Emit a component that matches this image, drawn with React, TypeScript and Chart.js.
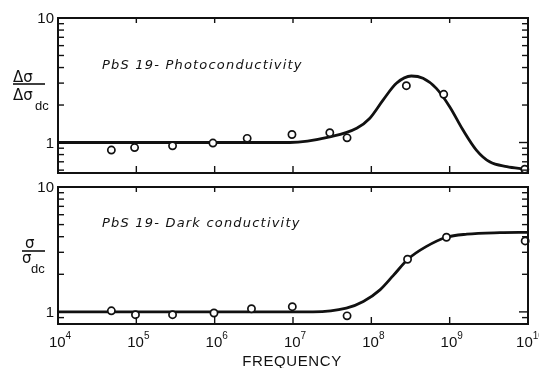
import React, { useEffect, useRef } from "react";
import { Chart, registerables } from "chart.js";
Chart.register(...registerables);

// ---------- data ----------
const photoPointFreq = [4.8e4, 9.5e4, 2.9e5, 9.5e5, 2.6e6, 9.7e6, 2.95e7, 4.9e7, 2.8e8, 8.4e8, 9.1e9];
const photoPointValue = [0.87, 0.91, 0.94, 0.99, 1.08, 1.16, 1.2, 1.09, 2.86, 2.44, 0.61];
const photoCurveFreq = [1e4, 1e5, 1e6, 9.1e6, 2.95e7, 6.5e7, 9.5e7, 1.41e8, 2.09e8, 3.24e8, 4.57e8, 6.76e8, 1e9, 1.48e9, 2.19e9, 3.24e9, 5.37e9, 9.1e9];
const photoCurveValue = [1.0, 1.0, 1.0, 1.0, 1.11, 1.3, 1.56, 2.19, 2.99, 3.42, 3.28, 2.72, 1.94, 1.26, 0.87, 0.7, 0.64, 0.61];

const darkPointFreq = [4.8e4, 9.75e4, 2.9e5, 9.8e5, 2.95e6, 9.8e6, 4.9e7, 2.9e8, 9.1e8, 9.2e9];
const darkPointValue = [1.02, 0.95, 0.95, 0.98, 1.06, 1.1, 0.93, 2.64, 3.96, 3.7];
const darkCurveFreq = [1e4, 1e5, 1e6, 1e7, 1.8e7, 4.8e7, 7.9e7, 1.29e8, 1.9e8, 2.95e8, 5e8, 9.1e8, 1.66e9, 4.4e9, 1e10];
const darkCurveValue = [1.0, 1.0, 1.0, 1.0, 1.0, 1.07, 1.21, 1.5, 1.95, 2.65, 3.33, 3.96, 4.19, 4.31, 4.34];

const xTickValues = [1e4, 1e5, 1e6, 1e7, 1e8, 1e9, 1e10];
const xTickExponents = ["4", "5", "6", "7", "8", "9", "10"];
const yMajorValues = [1, 10];
const yMajorLabels = ["1", "10"];
const yMinorValues = [0.6, 0.7, 0.8, 0.9, 2, 3, 4, 5, 6, 7, 8, 9];

const xAxisTitle = "FREQUENCY";
const photoTitle = "PbS 19- Photoconductivity";
const darkTitle = "PbS 19- Dark conductivity";

// ---------- drawing helpers ----------
const INK = "#111";
const NUM_FONT = "15px 'Liberation Sans', 'DejaVu Sans', sans-serif";
const SUP_FONT = "10px 'Liberation Sans', 'DejaVu Sans', sans-serif";
const TITLE_FONT = "italic 13px 'DejaVu Sans', sans-serif";
const SYM_FONT = "15px 'DejaVu Sans', sans-serif";
const SUB_FONT = "13px 'Liberation Sans', 'DejaVu Sans', sans-serif";

function line(ctx: CanvasRenderingContext2D, x1: number, y1: number, x2: number, y2: number) {
  ctx.beginPath();
  ctx.moveTo(x1, y1);
  ctx.lineTo(x2, y2);
  ctx.stroke();
}

type PanelProps = {
  top: number;
  height: number;
  padTop: number;
  padBottom: number;
  yMin: number;
  curveFreq: number[];
  curveValue: number[];
  pointFreq: number[];
  pointValue: number[];
  title: string;
  titleX: number;
  titleBaseline: number;
  kind: "photo" | "dark";
  showXLabels: boolean;
};

function Panel(p: PanelProps) {
  const ref = useRef<HTMLCanvasElement | null>(null);
  useEffect(() => {
    const canvas = ref.current!;
    const offY = p.top;
    const framePlugin = {
      id: "frame" + p.kind,
      afterDraw(chart: any) {
        const ctx: CanvasRenderingContext2D = chart.ctx;
        const { left, right, top, bottom } = chart.chartArea;
        const xs = chart.scales.x;
        const ys = chart.scales.y;
        ctx.save();
        ctx.strokeStyle = INK;
        ctx.fillStyle = INK;
        ctx.lineWidth = 2;
        ctx.strokeRect(left, top, right - left, bottom - top);
        ctx.lineWidth = 1.4;
        // x decade ticks (inward, top and bottom)
        xTickValues.forEach((v) => {
          const px = xs.getPixelForValue(v);
          if (px <= left + 1 || px >= right - 1) return;
          line(ctx, px, bottom, px, bottom - 7);
          line(ctx, px, top, px, top + 5);
        });
        // y minor ticks
        yMinorValues.forEach((v) => {
          if (v < ys.min || v > ys.max) return;
          const py = ys.getPixelForValue(v);
          line(ctx, left, py, left + 6, py);
          line(ctx, right, py, right - 6, py);
        });
        // y major ticks + labels
        ctx.font = NUM_FONT;
        ctx.textAlign = "right";
        ctx.textBaseline = "middle";
        yMajorValues.forEach((v, i) => {
          const py = ys.getPixelForValue(v);
          if (v < ys.max) {
            line(ctx, left, py, left + 9, py);
            line(ctx, right, py, right - 9, py);
          }
          ctx.fillText(yMajorLabels[i], left - 4, py + 1);
        });
        // panel title
        ctx.font = TITLE_FONT;
        (ctx as any).letterSpacing = "1.2px";
        ctx.textAlign = "left";
        ctx.textBaseline = "alphabetic";
        ctx.fillText(p.title, p.titleX, p.titleBaseline - offY);
        (ctx as any).letterSpacing = "0px";
        // y-axis fraction label
        ctx.lineWidth = 1.6;
        if (p.kind === "photo") {
          ctx.font = SYM_FONT;
          ctx.fillText("Δσ", 13, 82 - offY);
          line(ctx, 13, 84 - offY, 45, 84 - offY);
          ctx.fillText("Δσ", 13, 100 - offY);
          ctx.font = SUB_FONT;
          ctx.fillText("dc", 35, 110 - offY);
        } else {
          ctx.font = SYM_FONT;
          ctx.fillText("σ", 25, 248 - offY);
          line(ctx, 22, 251 - offY, 45, 251 - offY);
          ctx.fillText("σ", 22, 263 - offY);
          ctx.font = SUB_FONT;
          ctx.fillText("dc", 31, 273 - offY);
        }
        // x labels
        if (p.showXLabels) {
          xTickValues.forEach((v, i) => {
            const px = xs.getPixelForValue(v);
            ctx.font = NUM_FONT;
            const w1 = ctx.measureText("10").width;
            ctx.font = SUP_FONT;
            const w2 = ctx.measureText(xTickExponents[i]).width;
            const start = px + 2 - (w1 + w2) / 2;
            ctx.textAlign = "left";
            ctx.font = NUM_FONT;
            ctx.fillText("10", start, 347 - offY);
            ctx.font = SUP_FONT;
            ctx.fillText(xTickExponents[i], start + w1, 339 - offY);
          });
          ctx.font = NUM_FONT;
          ctx.textAlign = "center";
          (ctx as any).letterSpacing = "0.6px";
          ctx.fillText(xAxisTitle, 292, 366 - offY);
          (ctx as any).letterSpacing = "0px";
        }
        ctx.restore();
      },
    };

    const chart = new Chart(canvas, {
      type: "line",
      data: {
        datasets: [
          {
            data: p.curveFreq.map((f, i) => ({ x: f, y: p.curveValue[i] })),
            borderColor: INK,
            borderWidth: 2.8,
            pointRadius: 0,
            cubicInterpolationMode: "monotone",
            fill: false,
            clip: false as any,
            order: 2,
          },
          {
            data: p.pointFreq.map((f, i) => ({ x: f, y: p.pointValue[i] })),
            showLine: false,
            pointRadius: 3.6,
            pointBorderWidth: 1.7,
            pointBorderColor: INK,
            pointBackgroundColor: "#fff",
            borderColor: INK,
            backgroundColor: "#fff",
            clip: false as any,
            order: 1,
          },
        ],
      },
      options: {
        animation: false,
        responsive: false,
        devicePixelRatio: 1,
        events: [],
        layout: { padding: { left: 58, right: 11, top: p.padTop, bottom: p.padBottom } },
        plugins: { legend: { display: false }, tooltip: { enabled: false }, title: { display: false } },
        scales: {
          x: { type: "logarithmic", min: 1e4, max: 1e10, display: false },
          y: { type: "logarithmic", min: p.yMin, max: 10, display: false },
        },
      },
      plugins: [framePlugin],
    } as any);
    return () => chart.destroy();
  }, []);
  return (
    <canvas
      ref={ref}
      width={539}
      height={p.height}
      style={{ position: "absolute", left: 0, top: p.top, width: 539, height: p.height }}
    />
  );
}

export default function App() {
  return (
    <div style={{ position: "absolute", left: 0, top: 0, width: 539, height: 368, background: "#fff" }}>
      <Panel
        top={0}
        height={180}
        padTop={18}
        padBottom={7}
        yMin={0.569}
        curveFreq={photoCurveFreq}
        curveValue={photoCurveValue}
        pointFreq={photoPointFreq}
        pointValue={photoPointValue}
        title={photoTitle}
        titleX={102}
        titleBaseline={69}
        kind="photo"
        showXLabels={false}
      />
      <Panel
        top={180}
        height={188}
        padTop={7}
        padBottom={44}
        yMin={0.8}
        curveFreq={darkCurveFreq}
        curveValue={darkCurveValue}
        pointFreq={darkPointFreq}
        pointValue={darkPointValue}
        title={darkTitle}
        titleX={102}
        titleBaseline={227}
        kind="dark"
        showXLabels={true}
      />
    </div>
  );
}
